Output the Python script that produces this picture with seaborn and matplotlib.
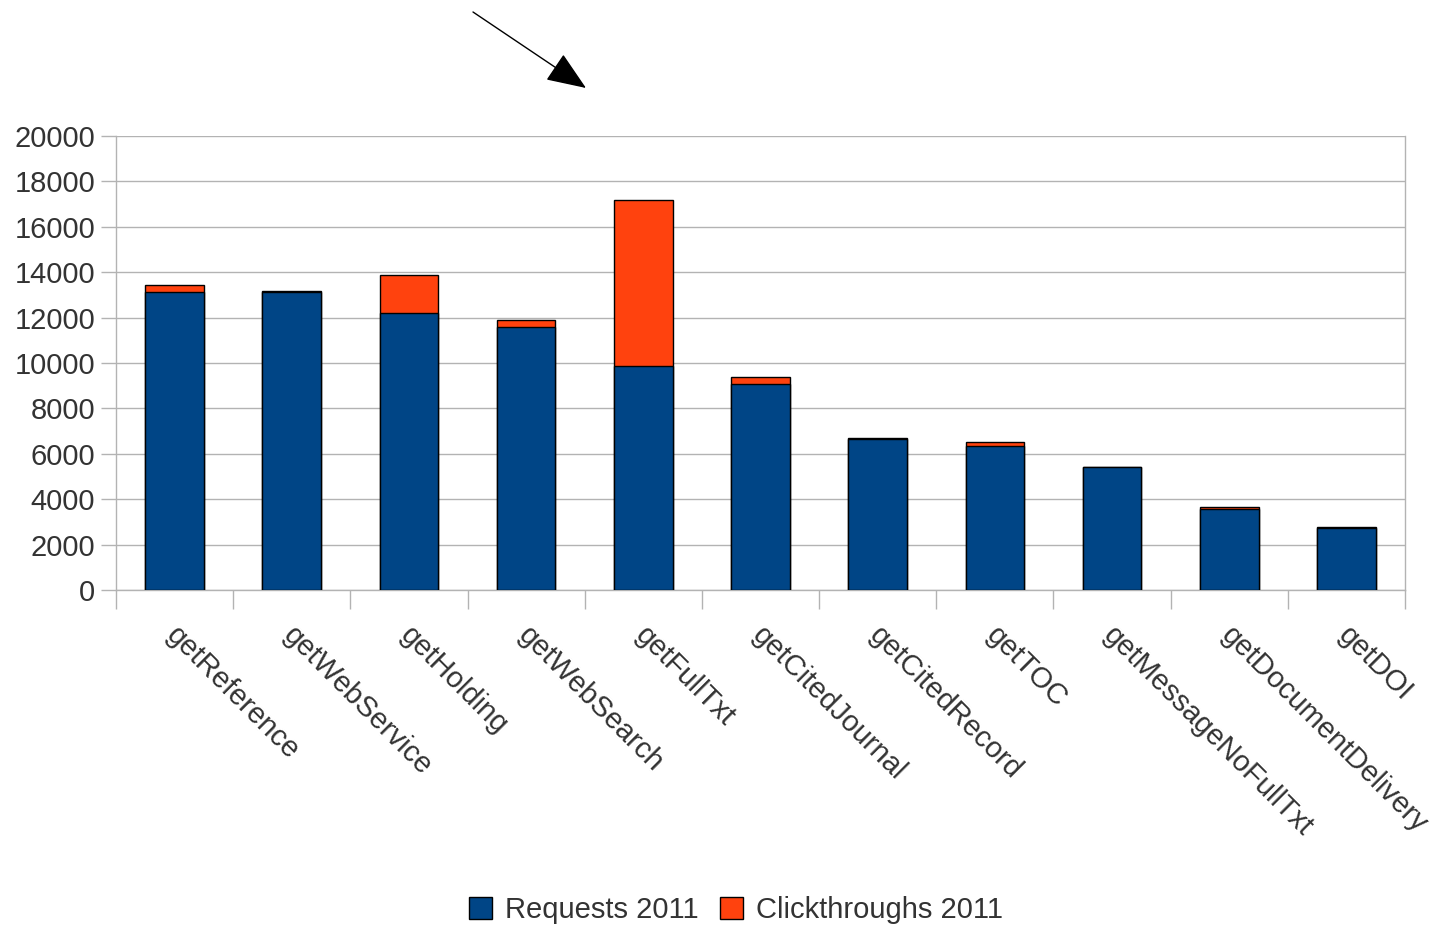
import matplotlib
matplotlib.use('Agg')
import matplotlib.pyplot as plt
import matplotlib.transforms as mtransforms
from matplotlib.patches import Patch
import seaborn as sns
import pandas as pd

# values
methods = ['getReference', 'getWebService', 'getHolding', 'getWebSearch', 'getFullTxt',
           'getCitedJournal', 'getCitedRecord', 'getTOC', 'getMessageNoFullTxt',
           'getDocumentDelivery', 'getDOI']
requests_2011 = [13130, 13110, 12190, 11590, 9880, 9075, 6640, 6345, 5430, 3555, 2715]
clicks_2011 = [310, 40, 1690, 300, 7300, 310, 70, 180, 0, 115, 75]
y_ticks = list(range(0, 20001, 2000))

BLUE = '#004586'
ORANGE = '#ff420e'
GRID = '#b3b3b3'
TXT = '#333333'

df = pd.DataFrame({'method': methods, 'requests': requests_2011, 'clicks': clicks_2011})
df['total'] = df['requests'] + df['clicks']

sns.set_style('white')
plt.rcParams['font.family'] = ['Liberation Sans', 'DejaVu Sans']

fig = plt.figure(figsize=(14.35, 9.25), dpi=100)
ax = fig.add_axes([116 / 1435, 1 - 590 / 925, (1405 - 116) / 1435, (590 - 136) / 925])

# stacked bars: total in orange, requests drawn over it in blue
sns.barplot(data=df, x='method', y='total', color=ORANGE, width=0.5,
            edgecolor='black', linewidth=1, saturation=1, ax=ax, zorder=3)
sns.barplot(data=df, x='method', y='requests', color=BLUE, width=0.5,
            edgecolor='black', linewidth=1, saturation=1, ax=ax, zorder=4)

ax.set_xlim(-0.5, len(methods) - 0.5)
ax.set_ylim(0, 20000)
ax.set_xlabel('')
ax.set_ylabel('')

ax.set_yticks(y_ticks)
ax.yaxis.grid(True, color=GRID, linewidth=1)
ax.set_axisbelow(True)
ax.tick_params(axis='y', length=11, width=1, color=GRID, labelsize=21, labelcolor=TXT, pad=4, left=True)

ax.set_xticks(range(len(methods)))
ax.set_xticks([i - 0.5 for i in range(len(methods) + 1)], minor=True)
ax.tick_params(axis='x', which='major', length=0, pad=22.5, labelsize=21, labelcolor=TXT)
ax.tick_params(axis='x', which='minor', length=14, width=1, color=GRID, bottom=True)
ax.set_xticklabels(methods, rotation=-45, ha='left', va='top', rotation_mode='anchor')
shift = mtransforms.ScaledTranslation(0.06, 0, fig.dpi_scale_trans)
for lab in ax.get_xticklabels():
    lab.set_transform(lab.get_transform() + shift)

for side in ['left', 'right', 'bottom', 'top']:
    ax.spines[side].set_color(GRID)
    ax.spines[side].set_linewidth(1)
ax.spines['top'].set_visible(False)

handles = [Patch(facecolor=BLUE, edgecolor='black', label='Requests 2011'),
           Patch(facecolor=ORANGE, edgecolor='black', label='Clickthroughs 2011')]
leg = fig.legend(handles=handles, loc='center', bbox_to_anchor=(736 / 1435, 1 - 910 / 925),
                 ncol=2, frameon=False, fontsize=21, handlelength=0.8, handleheight=0.8,
                 handletextpad=0.45, columnspacing=0.7)
for t in leg.get_texts():
    t.set_color(TXT)

# the arrow in the top left
fig.add_artist(matplotlib.patches.FancyArrowPatch(
    (473 / 1435, 1 - 12 / 925), (586 / 1435, 1 - 88 / 925), transform=fig.transFigure,
    arrowstyle='-|>,head_length=1.25,head_width=0.5', mutation_scale=20,
    color='black', linewidth=1, shrinkA=0, shrinkB=0))

fig.savefig('out.png', dpi=100)
